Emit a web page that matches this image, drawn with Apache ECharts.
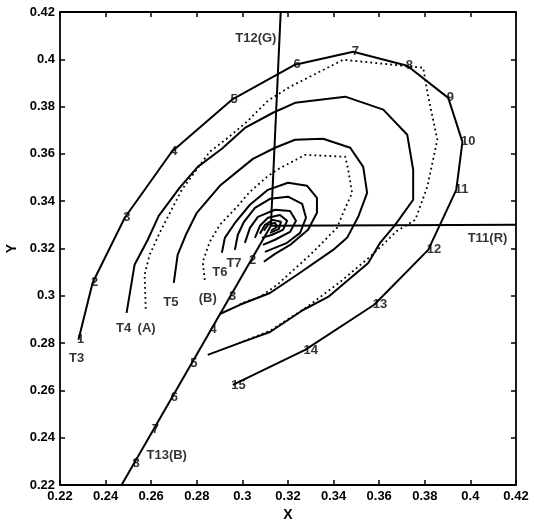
<!DOCTYPE html>
<html>
<head>
<meta charset="utf-8">
<script src="https://cdn.jsdelivr.net/npm/echarts@6/dist/echarts.min.js"></script>
<style>
html,body{margin:0;padding:0;background:#fff;}
#chart{width:534px;height:520px;}
</style>
</head>
<body>
<div id="chart"></div>
<script>
// ---- data (x, y chromaticity) ----
var xTicks = [0.22,0.24,0.26,0.28,0.30,0.32,0.34,0.36,0.38,0.40,0.42];
var yTicks = [0.22,0.24,0.26,0.28,0.30,0.32,0.34,0.36,0.38,0.40,0.42];

var t3X = [0.2281,0.2343,0.2484,0.2690,0.2954,0.3231,0.3486,0.3723,0.3903,0.3965,0.3938,0.3815,0.3578,0.3275,0.2958];
var t3Y = [0.2814,0.3055,0.3330,0.3609,0.3829,0.3977,0.4032,0.3973,0.3837,0.3651,0.3448,0.3194,0.2962,0.2771,0.2623];
var t3Labels = ['1','2','3','4','5','6','7','8','9','10','11','12','13','14','15'];

var t4X = [0.2492,0.2527,0.2585,0.2633,0.2725,0.2804,0.2910,0.3011,0.3134,0.3231,0.3451,0.3618,0.3723,0.3749,0.3749,0.3670,0.3604,0.3552,0.3376,0.3266,0.3121,0.2989,0.2848];
var t4Y = [0.2928,0.3131,0.3237,0.3338,0.3457,0.3545,0.3622,0.3710,0.3774,0.3816,0.3842,0.3787,0.3681,0.3533,0.3406,0.3300,0.3224,0.3139,0.2995,0.2940,0.2847,0.2801,0.2750];

var aX = [0.2576,0.2571,0.2593,0.2637,0.2734,0.2857,0.2936,0.3020,0.3112,0.3209,0.3442,0.3793,0.3815,0.3855,0.3811,0.3758,0.3679,0.3560,0.3429,0.3284,0.3121,0.2989];
var aY = [0.2945,0.3089,0.3173,0.3266,0.3448,0.3609,0.3668,0.3736,0.3825,0.3884,0.3998,0.3964,0.3842,0.3660,0.3461,0.3321,0.3275,0.3165,0.3059,0.2953,0.2852,0.2801];

var t5X = [0.2699,0.2716,0.2752,0.2800,0.2901,0.3046,0.3143,0.3231,0.3354,0.3473,0.3530,0.3547,0.3508,0.3459,0.3398,0.3240,0.3121,0.2989,0.2901];
var t5Y = [0.3055,0.3173,0.3258,0.3351,0.3465,0.3579,0.3626,0.3660,0.3664,0.3626,0.3545,0.3435,0.3334,0.3245,0.3194,0.3089,0.3012,0.2962,0.2923];

var bX = [0.2835,0.2826,0.2857,0.2901,0.2976,0.3033,0.3108,0.3152,0.3275,0.3451,0.3464,0.3481,0.3442,0.3415,0.3297,0.3152,0.3077,0.2989];
var bY = [0.3067,0.3144,0.3228,0.3300,0.3376,0.3440,0.3503,0.3533,0.3596,0.3588,0.3533,0.3435,0.3351,0.3287,0.3173,0.3046,0.2995,0.2966];

var t6X = [0.2910,0.2923,0.2971,0.3033,0.3112,0.3200,0.3284,0.3327,0.3327,0.3288,0.3209,0.3143,0.3094];
var t6Y = [0.3182,0.3245,0.3313,0.3385,0.3448,0.3478,0.3465,0.3414,0.3351,0.3279,0.3215,0.3177,0.3144];

var t7X = [0.2967,0.2980,0.3007,0.3055,0.3121,0.3200,0.3262,0.3279,0.3253,0.3196,0.3099];
var t7Y = [0.3194,0.3258,0.3313,0.3372,0.3410,0.3419,0.3389,0.3330,0.3266,0.3224,0.3186];

var r3X = [0.3011,0.3033,0.3068,0.3143,0.3209,0.3235,0.3209,0.3143,0.3090];
var r3Y = [0.3224,0.3287,0.3334,0.3364,0.3359,0.3317,0.3270,0.3237,0.3215];

var r4X = [0.3055,0.3077,0.3112,0.3165,0.3196,0.3178,0.3130,0.3086];
var r4Y = [0.3245,0.3296,0.3330,0.3342,0.3317,0.3279,0.3258,0.3245];

var r5X = [0.3077,0.3099,0.3134,0.3169,0.3160,0.3121];
var r5Y = [0.3262,0.3300,0.3321,0.3313,0.3283,0.3266];

var r6X = [0.3094,0.3112,0.3143,0.3152,0.3125];
var r6Y = [0.3275,0.3300,0.3309,0.3292,0.3275];

// primary lines from white point
var t12X = [0.3125,0.3168];
var t12Y = [0.3296,0.4200];
var t11X = [0.3125,0.4200];
var t11Y = [0.3296,0.3300];
var t13X = [0.3125,0.2470];
var t13Y = [0.3296,0.2200];

var t13NumX = [0.3036,0.2948,0.2862,0.2778,0.2692,0.2609,0.2525];
var t13NumY = [0.3148,0.2999,0.2856,0.2716,0.2572,0.2433,0.2293];
var t13Labels = ['2','3','4','5','6','7','8'];

var noteText = ['T12(G)','T11(R)','T13(B)','T3','T4','(A)','T5','(B)','T6','T7'];
var noteX = [0.3059,0.4075,0.2668,0.2273,0.2479,0.2580,0.2686,0.2848,0.2901,0.2963];
var noteY = [0.4087,0.3241,0.2323,0.2737,0.2860,0.2864,0.2974,0.2991,0.3097,0.3135];

// ---- build ----
function zip(xs, ys){ return xs.map(function(v,i){ return [v, ys[i]]; }); }
var FONT = 'Liberation Sans, Arial, sans-serif';

function solid(xs, ys){
  return {type:'line', data: zip(xs,ys), showSymbol:false, symbol:'none', silent:true,
    lineStyle:{color:'#000', width:2}, z:3};
}
function dotted(xs, ys){
  return {type:'line', data: zip(xs,ys), showSymbol:false, symbol:'none', silent:true,
    lineStyle:{color:'#000', width:1.8, type:[1.8,3.2]}, z:3};
}
function numLabels(xs, ys, labels){
  return {type:'scatter', symbol:'circle', symbolSize:1, silent:true,
    itemStyle:{color:'rgba(0,0,0,0)'},
    data: xs.map(function(v,i){ return {value:[v, ys[i]], name: labels[i]}; }),
    label:{show:true, position:'right', distance:-2, formatter:'{b}',
      color:'#000', fontFamily:FONT, fontWeight:'bold', fontSize:13}, z:5};
}

var series = [
  solid(t3X,t3Y), solid(t4X,t4Y), dotted(aX,aY), solid(t5X,t5Y), dotted(bX,bY),
  solid(t6X,t6Y), solid(t7X,t7Y), solid(r3X,r3Y), solid(r4X,r4Y), solid(r5X,r5Y), solid(r6X,r6Y),
  solid(t12X,t12Y), solid(t11X,t11Y), solid(t13X,t13Y),
  numLabels(t3X,t3Y,t3Labels), numLabels(t13NumX,t13NumY,t13Labels),
  {type:'scatter', symbol:'circle', symbolSize:1, silent:true,
    itemStyle:{color:'rgba(0,0,0,0)'},
    data: noteX.map(function(v,i){ return {value:[v, noteY[i]], name: noteText[i]}; }),
    label:{show:true, position:'inside', formatter:'{b}', color:'#000',
      fontFamily:FONT, fontWeight:'bold', fontSize:13}, z:5}
];

var fmt = function(v){ return String(+(+v).toFixed(2)); };
var axisCommon = {
  type:'value', min:0.22, max:0.42, interval:0.02,
  axisLine:{show:true, onZero:false, lineStyle:{color:'#000', width:1.8}},
  axisTick:{show:true, inside:true, length:5, lineStyle:{color:'#000', width:1.5}},
  splitLine:{show:false}
};
function ax(extra){ var o = JSON.parse(JSON.stringify(axisCommon)); for (var k in extra) o[k]=extra[k]; return o; }

var chart = echarts.init(document.getElementById('chart'), null, {renderer:'canvas'});
chart.setOption({
  animation:false,
  backgroundColor:'#fff',
  grid:{left:60, right:18, top:12, bottom:35, containLabel:false, outerBoundsMode:'none'},
  xAxis:[
    ax({position:'bottom', name:'X', nameLocation:'middle', nameGap:20,
      nameTextStyle:{color:'#000', fontFamily:FONT, fontWeight:'bold', fontSize:14},
      axisLabel:{show:true, formatter:fmt, margin:5, color:'#000', fontFamily:FONT, fontWeight:'bold', fontSize:13}}),
    ax({position:'top', axisLabel:{show:false}})
  ],
  yAxis:[
    ax({position:'left', name:'Y', nameLocation:'middle', nameGap:39, nameRotate:90,
      nameTextStyle:{color:'#000', fontFamily:FONT, fontWeight:'bold', fontSize:14},
      axisLabel:{show:true, formatter:fmt, margin:5, color:'#000', fontFamily:FONT, fontWeight:'bold', fontSize:13}}),
    ax({position:'right', axisLabel:{show:false}})
  ],
  series: series
});
</script>
</body>
</html>
